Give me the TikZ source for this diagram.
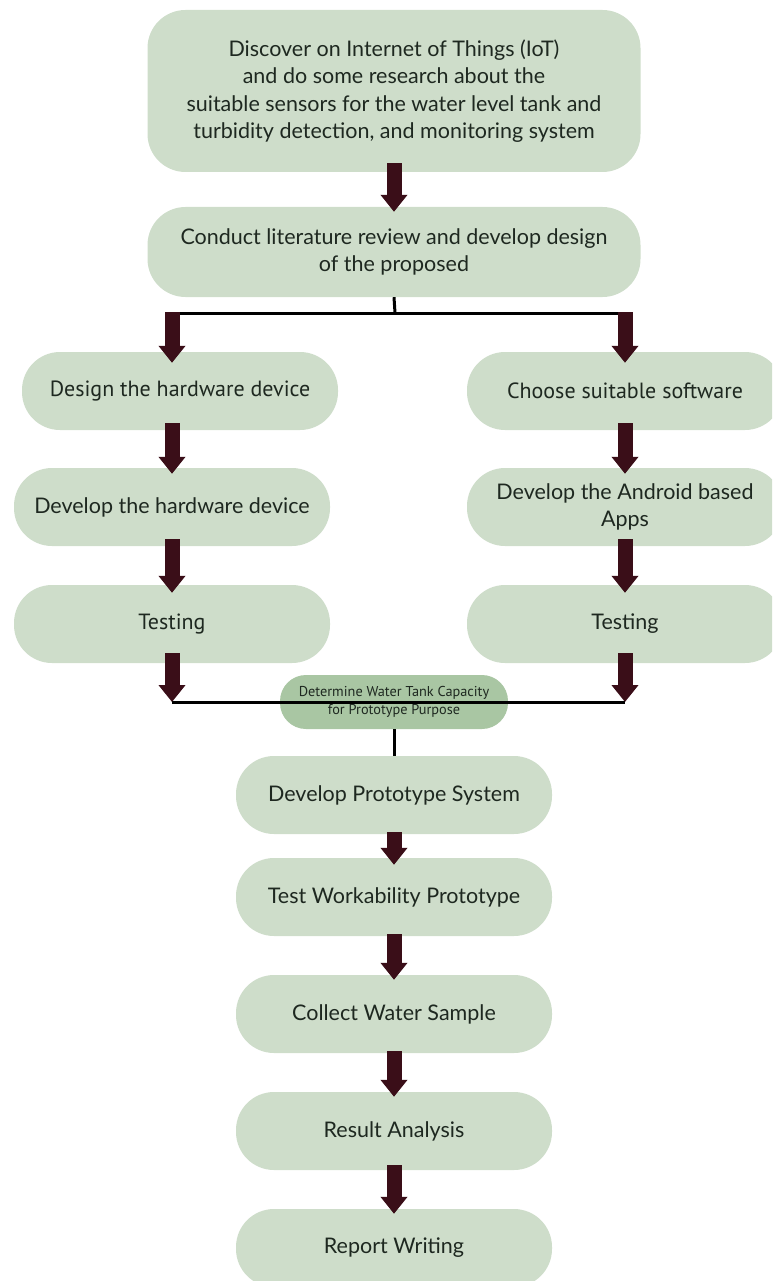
\documentclass[tikz,border=0pt]{standalone}
\usepackage{fontspec}
\setmainfont{Lato}
\newfontfamily\condfont{PT Sans}
\usetikzlibrary{arrows.meta}
\definecolor{sage}{HTML}{CEDDCA}
\definecolor{sagedark}{HTML}{A9C6A3}
\definecolor{maroon}{HTML}{3A0E18}
\definecolor{ink}{HTML}{1E2820}
\tikzset{
  stage/.style={fill=sage, draw=none, rounded corners=38pt, minimum width=316pt, minimum height=78pt,
    inner sep=0pt, align=center, text=ink, font=\fontsize{21.5}{27.5}\selectfont},
  condstage/.style={stage, font=\condfont\fontsize{22}{27}\selectfont},
  bigarrow/.style={draw=maroon, line width=15pt, -{Triangle[width=26pt,length=17pt]}, maroon},
  joinline/.style={draw=black, line width=3pt},
}
\begin{document}
\begin{tikzpicture}[x=1pt,y=-1pt]
\useasboundingbox (0,0) rectangle (772,1281);
\clip (0,0) rectangle (772,1281);
% nodes
\node[stage, minimum width=493pt, minimum height=162pt] (discover) at (394,91)
  {Discover on Internet of Things (IoT)\\and do some research about the\\suitable sensors for the water level tank and\\turbidity detection, and monitoring system};
\node[stage, minimum width=493pt, minimum height=90pt] (review) at (394,252)
  {Conduct literature review and develop design\\of the proposed};
\node[condstage] (design) at (180,391) {Design the hardware device};
\node[condstage] (choose) at (625,391) {Choose suitable software};
\node[stage] (devhw) at (172,507) {Develop the hardware device};
\node[stage] (devapp) at (625,507) {Develop the Android based\\Apps};
\node[condstage] (testl) at (172,624) {Testing};
\node[stage] (testr) at (625,624) {Testing};
\node[stage, fill=sagedark, minimum width=228pt, minimum height=54pt, rounded corners=26pt,
  font=\condfont\fontsize{14.3}{18}\selectfont] (determine) at (394,702)
  {Determine Water Tank Capacity\\for Prototype Purpose};
\node[stage] (proto) at (394,795) {Develop Prototype System};
\node[stage] (work) at (394,897) {Test Workability Prototype};
\node[stage] (collect) at (394,1014) {Collect Water Sample};
\node[stage] (result) at (394,1131) {Result Analysis};
\node[stage] (report) at (394,1248) {Report Writing};
% coordinates
\coordinate (split) at (395,313);
\coordinate (splitl) at (172,313);
\coordinate (splitr) at (625,313);
\coordinate (mergel) at (172,702);
\coordinate (merger) at (625,702);
% connectors
\draw[bigarrow, shorten <=-9pt, shorten >=-5pt] (discover.south) -- (review.north);
\draw[joinline] (review.south) -- (split);
\draw[joinline] (splitl) -- (splitr);
\draw[bigarrow, shorten <=-1pt, shorten >=-11pt] (splitl) -- (design.north -| splitl);
\draw[bigarrow, shorten <=-1pt, shorten >=-11pt] (splitr) -- (choose.north);
\draw[bigarrow, shorten <=-7pt, shorten >=-6pt] (design.south -| splitl) -- (devhw.north);
\draw[bigarrow, shorten <=-7pt, shorten >=-6pt] (choose.south) -- (devapp.north);
\draw[bigarrow, shorten <=-7pt, shorten >=-8pt] (devhw.south) -- (testl.north);
\draw[bigarrow, shorten <=-7pt, shorten >=-8pt] (devapp.south) -- (testr.north);
\draw[bigarrow, shorten <=-10pt] (testl.south) -- (mergel);
\draw[bigarrow, shorten <=-10pt] (testr.south) -- (merger);
\draw[joinline] (mergel) -- (merger);
\draw[joinline] (determine.south) -- (proto.north);
\draw[bigarrow, shorten <=-2pt, shorten >=-7pt] (proto.south) -- (work.north);
\draw[bigarrow, shorten <=-2pt, shorten >=-5pt] (work.south) -- (collect.north);
\draw[bigarrow, shorten <=-2pt, shorten >=-5pt] (collect.south) -- (result.north);
\draw[bigarrow, shorten <=-5pt, shorten >=-5pt] (result.south) -- (report.north);
\end{tikzpicture}
\end{document}
